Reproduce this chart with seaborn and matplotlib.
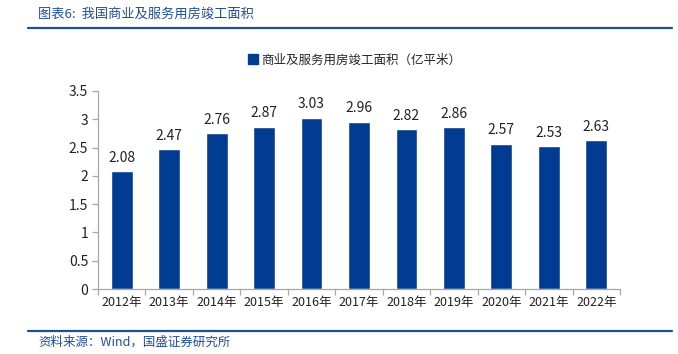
import numpy as np
import pandas as pd
import matplotlib
matplotlib.use("Agg")
import matplotlib.pyplot as plt
import seaborn as sns
from matplotlib.patches import Patch
from matplotlib.lines import Line2D

sns.set_theme(style="white")
plt.rcParams['font.family'] = ['Noto Sans CJK SC', 'DejaVu Sans']

years = ["2012年", "2013年", "2014年", "2015年", "2016年", "2017年",
         "2018年", "2019年", "2020年", "2021年", "2022年"]
area = [2.08, 2.47, 2.76, 2.87, 3.03, 2.96, 2.82, 2.86, 2.57, 2.53, 2.63]
series_name = "商业及服务用房竣工面积（亿平米）"
title = "图表6:  我国商业及服务用房竣工面积"
source = "资料来源：Wind，国盛证券研究所"

bar_color = "#023C92"
accent = "#1F4E9A"
axis_gray = "#A6A6A6"

df = pd.DataFrame({"year": years, "area": area})

fig = plt.figure(figsize=(6.78, 3.54), dpi=100)
ax = fig.add_axes([0.1445, 0.1836, 0.77, 0.5594])

sns.barplot(data=df, x="year", y="area", color=bar_color, width=0.46,
            saturation=1, ax=ax)

for i, v in enumerate(area):
    ax.text(i, v + 0.11, f"{v:.2f}", ha="center", va="bottom", fontsize=10, color="#222222")

ax.set_ylim(0, 3.5)
ax.set_yticks(np.arange(0, 3.51, 0.5))
ax.set_yticklabels(["0", "0.5", "1", "1.5", "2", "2.5", "3", "3.5"])
ax.set_xlim(-0.5, len(years) - 0.5)
ax.set_xlabel("")
ax.set_ylabel("")

for s in ["top", "right"]:
    ax.spines[s].set_visible(False)
for s in ["left", "bottom"]:
    ax.spines[s].set_color(axis_gray)
    ax.spines[s].set_linewidth(0.9)

ax.tick_params(axis="y", which="major", direction="out", length=4, color=axis_gray,
               width=0.9, labelsize=10, labelcolor="#222222", left=True, pad=3)
ax.tick_params(axis="x", which="major", length=0, labelsize=9, labelcolor="#222222", pad=5)
ax.set_xticks(np.arange(-0.5, len(years), 1.0), minor=True)
ax.tick_params(axis="x", which="minor", direction="out", length=4, color=axis_gray,
               width=0.9, bottom=True)

fig.legend(handles=[Patch(facecolor=bar_color, edgecolor=bar_color)], labels=[series_name],
           loc="center", bbox_to_anchor=(0.523, 1 - 60 / 354), frameon=False,
           fontsize=9, handlelength=0.8, handleheight=0.8, handletextpad=0.3)

# header / footer decoration
fig.text(38 / 678, 1 - 14 / 354, title, fontsize=9.5, color=accent, ha="left", va="center",
         style="italic")
fig.add_artist(Line2D([28 / 678, 672 / 678], [1 - 28 / 354, 1 - 28 / 354],
                      transform=fig.transFigure, color=accent, lw=1.6))
fig.add_artist(Line2D([28 / 678, 672 / 678], [1 - 331 / 354, 1 - 331 / 354],
                      transform=fig.transFigure, color=accent, lw=1.6))
fig.text(38 / 678, 1 - 342 / 354, source, fontsize=9, color=accent, ha="left", va="center",
         style="italic")

fig.savefig("out.png", dpi=100)
